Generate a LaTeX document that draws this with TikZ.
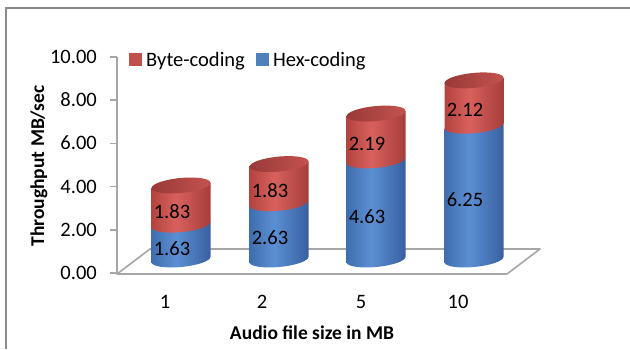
\documentclass[tikz,border=0pt]{standalone}
\usepackage{fontspec}
\setmainfont{Carlito}
\definecolor{bL}{HTML}{3F6EAE}
\definecolor{bM}{HTML}{5B8FD3}
\definecolor{bR}{HTML}{3860A0}
\definecolor{rL}{HTML}{B3433F}
\definecolor{rM}{HTML}{D8615D}
\definecolor{rR}{HTML}{A63D3A}
\definecolor{tL}{HTML}{983A38}
\definecolor{tR}{HTML}{C4524F}
\definecolor{legred}{HTML}{C0504D}
\definecolor{legblue}{HTML}{4F81BD}
\definecolor{axgray}{HTML}{A6A6A6}
\definecolor{bordergray}{HTML}{8A8A8A}
\pgfdeclarehorizontalshading{bluecyl}{100bp}{color(0bp)=(bL); color(25bp)=(bL); color(46bp)=(bM); color(75bp)=(bR); color(100bp)=(bR)}
\pgfdeclarehorizontalshading{redcyl}{100bp}{color(0bp)=(rL); color(25bp)=(rL); color(46bp)=(rM); color(75bp)=(rR); color(100bp)=(rR)}
\pgfdeclarehorizontalshading{redtop}{100bp}{color(0bp)=(tL); color(25bp)=(tL); color(75bp)=(tR); color(100bp)=(tR)}
\newcommand\mycyl[4]{%
  \pgfmathsetmacro\cylhb{#3*21.4}%
  \pgfmathsetmacro\cylht{(#3+#4)*21.4}%
  \begin{scope}[cm={1,0.09,0,1,(#2,89.5)}]
    \path[shading=bluecyl] (-29.5,0) arc[start angle=180,end angle=360,x radius=29.5pt,y radius=7.5pt] -- (29.5,\cylhb) -- (-29.5,\cylhb) -- cycle;
    \path[shading=redcyl] (-29.5,\cylhb) arc[start angle=180,end angle=360,x radius=29.5pt,y radius=7.5pt] -- (29.5,\cylht) -- (-29.5,\cylht) -- cycle;
    \path[shading=redtop] (0,\cylht) ellipse[x radius=29.5pt,y radius=7.5pt];
  \end{scope}
  \pgfmathsetmacro\cylyb{89.5+#3*10.7-7-6.6}%
  \pgfmathsetmacro\cylyr{89.5+#3*21.4+#4*10.7-7-6.6}%
  \node[lbl,anchor=base] (#1h) at (#2-9,\cylyb) {#3};
  \node[lbl,anchor=base] (#1r) at (#2-9,\cylyr) {#4};
}
\begin{document}
\begin{tikzpicture}[x=1pt,y=1pt,
  lbl/.style={font=\fontsize{20.5}{24}\selectfont, inner sep=0pt},
  ttl/.style={font=\fontsize{19.5}{23}\selectfont\bfseries, inner sep=0pt},
  gridln/.style={draw=axgray, line width=1.6pt}]
\useasboundingbox (0,0) rectangle (630,349);
% outer border
\coordinate (b1) at (6,0);
\coordinate (b2) at (6,341);
\coordinate (b3) at (630,341);
\draw[draw=bordergray, line width=2pt] (b1) -- (b2) -- (b3);
% floor
\coordinate (f1) at (117,75);
\coordinate (f2) at (507,75);
\coordinate (f3) at (540,100);
\coordinate (f4) at (150,100);
\draw[gridln, fill=white, line join=round] (f1) -- (f2) -- (f3) -- (f4) -- cycle;
% value axis
\coordinate (a0) at (117,75);
\coordinate (a1) at (117,292);
\draw[gridln] (a0) -- (a1);
\foreach \v/\t in {0/0.00,2/2.00,4/4.00,6/6.00,8/8.00,10/10.00}{
  \coordinate (tk\v) at (117,76+21.6*\v);
  \coordinate (tl\v) at (110,76+21.6*\v);
  \draw[gridln] (tl\v) -- (tk\v);
  \node[lbl,anchor=base east] (tick\v) at (97,76+21.6*\v-6.5) {\t};
}
% cylinders
\mycyl{c1}{181}{1.63}{1.83}
\mycyl{c2}{279}{2.63}{1.83}
\mycyl{c3}{376}{4.63}{2.19}
\mycyl{c4}{474}{6.25}{2.12}
% category labels
\node[lbl,anchor=base] (x1) at (165,40.5) {1};
\node[lbl,anchor=base] (x2) at (262,40.5) {2};
\node[lbl,anchor=base] (x3) at (361,40.5) {5};
\node[lbl,anchor=base] (x4) at (458,40.5) {10};
% axis titles
\node[ttl,anchor=base] (xt) at (312,10) {Audio file size in MB};
\node[ttl,anchor=base,rotate=90] (yt) at (44,183) {Throughput MB/sec};
% legend
\fill[legred] (129,283) rectangle (141.5,295.5);
\node[lbl,anchor=base west] (lg1) at (146,283) {Byte-coding};
\fill[legblue] (256,283) rectangle (268.5,295.5);
\node[lbl,anchor=base west] (lg2) at (273,283) {Hex-coding};
\end{tikzpicture}
\end{document}
